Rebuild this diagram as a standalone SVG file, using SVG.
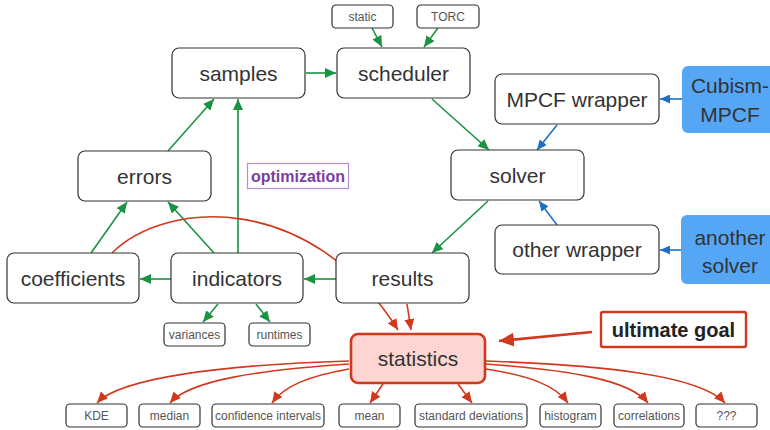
<svg xmlns="http://www.w3.org/2000/svg" width="770" height="430" viewBox="0 0 770 430">
<defs>
<marker id="ag" markerUnits="userSpaceOnUse" markerWidth="11" markerHeight="10" refX="11" refY="5" orient="auto"><path d="M0,0 L11,5 L0,10 z" fill="#1a9441"/></marker>
<marker id="ar" markerUnits="userSpaceOnUse" markerWidth="11" markerHeight="10" refX="11" refY="5" orient="auto"><path d="M0,0 L11,5 L0,10 z" fill="#d1381c"/></marker>
<marker id="arb" markerUnits="userSpaceOnUse" markerWidth="15" markerHeight="14" refX="15" refY="7" orient="auto"><path d="M0,0 L15,7 L0,14 z" fill="#d1381c"/></marker>
<marker id="ab" markerUnits="userSpaceOnUse" markerWidth="10" markerHeight="9" refX="10" refY="4.5" orient="auto"><path d="M0,0 L10,4.5 L0,9 z" fill="#1f6fc5"/></marker>
</defs>
<style>
.n{fill:#fff;stroke:#333;stroke-width:1.2}
.t{font-family:"Liberation Sans",Arial,sans-serif;font-size:21px;fill:#333;text-anchor:middle}
.s{font-family:"Liberation Sans",Arial,sans-serif;font-size:12px;fill:#555;text-anchor:middle}
.bl{fill:#55a6f5}
.g{fill:none;stroke:#1a9441;stroke-width:1.6;marker-end:url(#ag)}
.r{fill:none;stroke:#d1381c;stroke-width:1.6;marker-end:url(#ar)}
.b{fill:none;stroke:#1f6fc5;stroke-width:1.6;marker-end:url(#ab)}
</style>
<g id="connectors">
<path class="g" d="M372,28 L382,47"/>
<path class="g" d="M438,28 L424,47"/>
<path class="g" d="M306,73 L336,73"/>
<path class="g" d="M168,151 L214,99"/>
<path class="g" d="M238,253 L238,99"/>
<path class="g" d="M91,253 L127,202"/>
<path class="g" d="M214,253 L168,202"/>
<path class="g" d="M171,279 L140,279"/>
<path class="g" d="M336,279 L304,279"/>
<path class="g" d="M432,99 L489,150"/>
<path class="g" d="M488,201 L432,253"/>
<path class="g" d="M218,304 L203,322"/>
<path class="g" d="M256,304 L270,322"/>
<path class="b" d="M557,125 L537,150"/>
<path class="b" d="M557,225 L539,201"/>
<path class="b" d="M682,99 L660,99"/>
<path class="b" d="M681,250 L660,250"/>
<path class="r" d="M112,253 C165,200 310,190 398,330"/>
<path class="r" d="M407,304 L411,330"/>
<path fill="none" stroke="#d1381c" stroke-width="2.6" marker-end="url(#arb)" d="M592,332 L499,341"/>
<path class="r" d="M349,361 C220,365 120,378 97,403"/>
<path class="r" d="M349,364 C260,370 190,380 170,403"/>
<path class="r" d="M349,369 C310,376 285,385 272,403"/>
<path class="r" d="M383,384 L370,403"/>
<path class="r" d="M458,384 L472,403"/>
<path class="r" d="M486,369 C530,376 555,385 568,403"/>
<path class="r" d="M486,364 C570,370 630,380 648,403"/>
<path class="r" d="M486,361 C600,365 700,375 725,403"/>
</g>
<g id="static"><rect class="n" x="332" y="5" width="61" height="23" rx="4"/><text class="s" x="362.5" y="21">static</text></g>
<g id="torc"><rect class="n" x="417" y="5" width="62" height="23" rx="4"/><text class="s" x="448" y="21">TORC</text></g>
<g id="samples"><rect class="n" x="172" y="48" width="133" height="50" rx="7"/><text class="t" x="238.5" y="81">samples</text></g>
<g id="scheduler"><rect class="n" x="337" y="48" width="133" height="50" rx="7"/><text class="t" x="403.5" y="81">scheduler</text></g>
<g id="mpcf-wrapper"><rect class="n" x="495" y="74" width="164" height="50" rx="7"/><text class="t" x="577" y="107">MPCF wrapper</text></g>
<g id="cubism"><rect class="bl" x="682" y="66" width="100" height="67" rx="6"/><text class="t" x="730" y="93">Cubism-</text><text class="t" x="730" y="122">MPCF</text></g>
<g id="errors"><rect class="n" x="78" y="151" width="133" height="50" rx="7"/><text class="t" x="144.5" y="184">errors</text></g>
<g id="optimization"><rect x="247.5" y="163.5" width="101" height="25" fill="#fff" stroke="#b48fd2" stroke-width="1.2"/><text x="298" y="182" font-family="Liberation Sans, Arial, sans-serif" font-size="16" font-weight="bold" fill="#7a3ea3" text-anchor="middle">optimization</text></g>
<g id="solver"><rect class="n" x="451" y="150" width="133" height="50" rx="7"/><text class="t" x="517.5" y="183">solver</text></g>
<g id="coefficients"><rect class="n" x="7" y="253" width="132" height="50" rx="7"/><text class="t" x="73" y="286">coefficients</text></g>
<g id="indicators"><rect class="n" x="171" y="253" width="132" height="50" rx="7"/><text class="t" x="237" y="286">indicators</text></g>
<g id="results"><rect class="n" x="336" y="253" width="133" height="50" rx="7"/><text class="t" x="402.5" y="286">results</text></g>
<g id="other-wrapper"><rect class="n" x="495" y="225" width="164" height="49" rx="7"/><text class="t" x="577" y="257">other wrapper</text></g>
<g id="another-solver"><rect class="bl" x="681" y="215" width="100" height="69" rx="6"/><text class="t" x="730" y="245">another</text><text class="t" x="730" y="273">solver</text></g>
<g id="variances"><rect class="n" x="164" y="323" width="61" height="23" rx="4"/><text class="s" x="194.5" y="339">variances</text></g>
<g id="runtimes"><rect class="n" x="249" y="323" width="61" height="23" rx="4"/><text class="s" x="279.5" y="339">runtimes</text></g>
<g id="statistics"><rect x="351" y="334" width="134" height="49" rx="7" fill="#fdd5d2" stroke="#d1381c" stroke-width="2.6"/><text class="t" x="418" y="366">statistics</text></g>
<g id="ultimate-goal"><rect x="601" y="312" width="145" height="35" rx="2" fill="#fff" stroke="#d1381c" stroke-width="2.4"/><text x="673.5" y="337" font-family="Liberation Sans, Arial, sans-serif" font-size="20" font-weight="bold" fill="#222" text-anchor="middle">ultimate goal</text></g>
<g id="kde"><rect class="n" x="66" y="404" width="61" height="23" rx="4"/><text class="s" x="96.5" y="420">KDE</text></g>
<g id="median"><rect class="n" x="139" y="404" width="61" height="23" rx="4"/><text class="s" x="169.5" y="420">median</text></g>
<g id="confidence"><rect class="n" x="212" y="404" width="112" height="23" rx="4"/><text class="s" x="268" y="420">confidence intervals</text></g>
<g id="mean"><rect class="n" x="339" y="404" width="61" height="23" rx="4"/><text class="s" x="369.5" y="420">mean</text></g>
<g id="stddev"><rect class="n" x="415" y="404" width="112" height="23" rx="4"/><text class="s" x="471" y="420">standard deviations</text></g>
<g id="histogram"><rect class="n" x="540" y="404" width="61" height="23" rx="4"/><text class="s" x="570.5" y="420">histogram</text></g>
<g id="correlations"><rect class="n" x="614" y="404" width="70" height="23" rx="4"/><text class="s" x="649" y="420">correlations</text></g>
<g id="qqq"><rect class="n" x="696" y="404" width="61" height="23" rx="4"/><text class="s" x="726.5" y="420">???</text></g>
</svg>
